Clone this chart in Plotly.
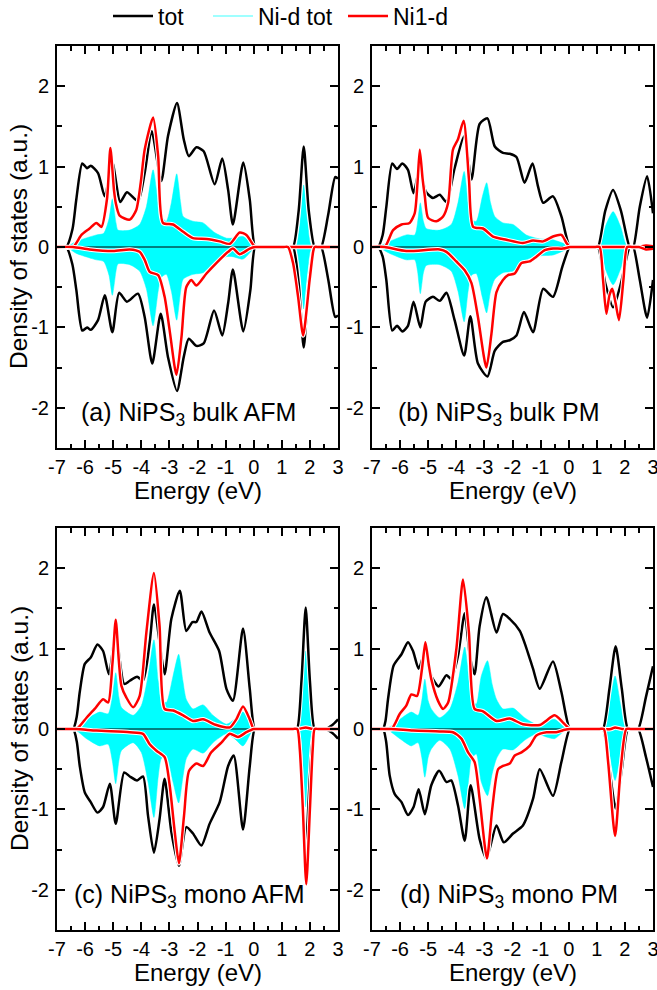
import plotly.graph_objects as go

# ---------------- data (energy eV, DOS a.u.) ----------------
a_tot_up = [(-7,0),(-6.67,0),(-6.45,0.22),(-6.31,0.6),(-6.10,1.04),(-5.93,0.98),(-5.80,1.01),(-5.54,0.92),(-5.30,0.63),(-5.03,1.05),(-4.75,0.56),(-4.51,0.68),(-4.12,0.57),(-3.88,0.92),(-3.63,1.44),(-3.29,0.82),(-3.05,1.38),(-2.73,1.79),(-2.49,1.34),(-2.31,1.13),(-2.04,1.24),(-1.78,1.19),(-1.39,0.78),(-1.12,1.10),(-0.91,0.71),(-0.74,0.28),(-0.37,1.05),(-0.14,0.59),(0.05,0),(0.2,0),(1.25,0),(1.40,0),(1.60,0.45),(1.78,1.25),(1.96,0.45),(2.17,0),(2.28,0),(2.40,0),(2.65,0.4),(2.90,0.87),(3.0,0.85)]
a_tot_dn = [(-7,0),(-6.67,0),(-6.45,-0.22),(-6.31,-0.54),(-6.10,-1.04),(-5.93,-1.00),(-5.80,-1.03),(-5.54,-0.91),(-5.30,-0.60),(-5.03,-1.06),(-4.79,-0.57),(-4.51,-0.68),(-4.12,-0.58),(-3.88,-0.87),(-3.61,-1.45),(-3.31,-0.83),(-3.05,-1.37),(-2.73,-1.79),(-2.49,-1.37),(-2.31,-1.14),(-2.04,-1.23),(-1.78,-1.20),(-1.41,-0.79),(-1.12,-1.10),(-0.91,-0.70),(-0.74,-0.28),(-0.37,-1.05),(-0.12,-0.54),(0.05,0),(0.2,0),(1.25,0),(1.40,0),(1.60,-0.45),(1.78,-1.25),(1.96,-0.45),(2.17,0),(2.28,0),(2.40,0),(2.65,-0.4),(2.90,-0.87),(3.0,-0.85)]
a_nid_up = [(-7,0),(-6.67,0),(-6.31,0.07),(-5.60,0.15),(-5.34,0.17),(-5.15,0.35),(-5.03,0.60),(-4.90,0.30),(-4.83,0.21),(-4.41,0.21),(-4.06,0.28),(-3.82,0.50),(-3.58,0.96),(-3.40,0.55),(-3.29,0.38),(-3.11,0.32),(-2.93,0.55),(-2.74,0.91),(-2.60,0.55),(-2.51,0.38),(-2.16,0.32),(-1.80,0.30),(-1.39,0.18),(-0.97,0.11),(-0.74,0.11),(-0.38,0.13),(-0.08,0.05),(0.05,0),(0.2,0),(1.35,0),(1.50,0),(1.65,0.3),(1.78,0.77),(1.92,0.3),(2.08,0),(3,0)]
a_nid_dn = [(-7,0),(-6.67,0),(-6.31,-0.08),(-5.60,-0.16),(-5.34,-0.18),(-5.15,-0.35),(-5.03,-0.60),(-4.90,-0.30),(-4.83,-0.21),(-4.41,-0.22),(-4.06,-0.30),(-3.82,-0.52),(-3.58,-0.98),(-3.40,-0.55),(-3.29,-0.38),(-3.11,-0.34),(-2.93,-0.55),(-2.74,-0.91),(-2.60,-0.55),(-2.51,-0.40),(-2.16,-0.34),(-1.80,-0.32),(-1.39,-0.19),(-0.97,-0.12),(-0.74,-0.12),(-0.38,-0.15),(-0.08,-0.05),(0.05,0),(0.2,0),(1.35,0),(1.50,0),(1.65,-0.3),(1.78,-0.77),(1.92,-0.3),(2.08,0),(3,0)]
a_ni1_up = [(-7,0),(-6.43,0),(-6.13,0.15),(-5.84,0.23),(-5.60,0.30),(-5.42,0.25),(-5.22,0.6),(-5.10,1.23),(-4.97,0.7),(-4.91,0.55),(-4.77,0.39),(-4.41,0.34),(-4.18,0.46),(-4.02,0.8),(-3.88,1.21),(-3.58,1.61),(-3.40,1.13),(-3.23,0.30),(-2.87,0.28),(-2.51,0.19),(-2.16,0.11),(-1.68,0.10),(-1.21,0.07),(-0.85,0.04),(-0.50,0.18),(-0.26,0.15),(0.0,0.02),(0.1,0),(0.25,0),(3,0)]
a_ni1_dn = [(-7,0),(-6.43,0),(-5.84,-0.03),(-5.0,-0.05),(-4.41,-0.03),(-4.06,-0.06),(-3.88,-0.16),(-3.70,-0.31),(-3.40,-0.35),(-3.17,-0.62),(-2.99,-1.04),(-2.75,-1.59),(-2.57,-1.12),(-2.40,-0.50),(-2.22,-0.41),(-2.04,-0.48),(-1.68,-0.33),(-1.33,-0.20),(-0.91,-0.06),(-0.74,-0.02),(-0.5,-0.09),(-0.14,-0.02),(0.05,0),(0.2,0),(1.07,0),(1.22,0),(1.40,-0.2),(1.58,-0.62),(1.76,-1.10),(1.99,-0.41),(2.12,-0.05),(2.17,0),(2.3,0),(3,0)]

b_tot_up = [(-7,0),(-6.79,0),(-6.62,0.15),(-6.49,0.50),(-6.28,1.04),(-6.11,0.97),(-5.92,1.04),(-5.72,0.96),(-5.52,0.67),(-5.30,0.99),(-5.09,0.69),(-4.83,0.61),(-4.59,0.65),(-4.35,0.56),(-4.06,0.98),(-3.72,1.38),(-3.46,0.84),(-3.17,1.53),(-2.89,1.60),(-2.63,1.25),(-2.34,1.17),(-2.10,1.16),(-1.86,1.12),(-1.57,0.80),(-1.29,1.04),(-1.09,0.75),(-0.91,0.55),(-0.56,0.63),(-0.26,0.38),(0.04,0),(0.2,0),(0.9,0),(1.04,0),(1.30,0.45),(1.58,0.71),(1.86,0.45),(2.17,0),(2.24,0),(2.30,0),(2.53,0.5),(2.79,0.88),(3.0,0.42)]
b_tot_dn = [(-7,0),(-6.79,0),(-6.62,-0.12),(-6.49,-0.41),(-6.28,-1.04),(-6.11,-0.98),(-5.92,-1.05),(-5.72,-0.98),(-5.52,-0.68),(-5.28,-1.0),(-5.09,-0.68),(-4.83,-0.62),(-4.59,-0.67),(-4.35,-0.57),(-4.06,-0.91),(-3.72,-1.35),(-3.50,-0.86),(-3.23,-1.45),(-2.89,-1.61),(-2.63,-1.29),(-2.34,-1.18),(-2.10,-1.16),(-1.86,-1.10),(-1.59,-0.81),(-1.27,-1.06),(-0.91,-0.52),(-0.56,-0.62),(-0.23,-0.25),(0.04,0),(0.2,0),(0.9,0),(1.04,0),(1.30,-0.45),(1.58,-0.75),(1.86,-0.45),(2.17,0),(2.24,0),(2.30,0),(2.53,-0.41),(2.79,-0.88),(3.0,-0.41)]
b_nid_up = [(-7,0),(-6.8,0),(-6.37,0.07),(-5.78,0.15),(-5.48,0.15),(-5.38,0.3),(-5.28,0.55),(-5.17,0.32),(-5.07,0.23),(-4.59,0.21),(-4.18,0.28),(-3.94,0.55),(-3.72,0.94),(-3.58,0.55),(-3.46,0.34),(-3.29,0.32),(-3.07,0.63),(-2.92,0.80),(-2.78,0.55),(-2.63,0.38),(-2.34,0.30),(-1.98,0.28),(-1.51,0.15),(-1.03,0.10),(-0.56,0.09),(-0.08,0.03),(0.1,0),(0.25,0),(0.95,0),(1.10,0),(1.30,0.25),(1.58,0.44),(1.85,0.25),(2.10,0),(3,0)]
b_nid_dn = [(-7,0),(-6.8,0),(-6.37,-0.08),(-5.78,-0.16),(-5.48,-0.16),(-5.38,-0.3),(-5.28,-0.58),(-5.17,-0.32),(-5.07,-0.23),(-4.59,-0.22),(-4.18,-0.30),(-3.94,-0.55),(-3.72,-0.93),(-3.58,-0.55),(-3.46,-0.35),(-3.29,-0.33),(-3.07,-0.63),(-2.92,-0.82),(-2.78,-0.55),(-2.63,-0.40),(-2.34,-0.32),(-1.98,-0.30),(-1.51,-0.16),(-1.03,-0.11),(-0.56,-0.10),(-0.08,-0.03),(0.1,0),(0.25,0),(0.95,0),(1.10,0),(1.30,-0.27),(1.58,-0.47),(1.85,-0.27),(2.10,0),(3,0)]
b_ni1_up = [(-7,0),(-6.55,0),(-6.25,0.21),(-5.95,0.28),(-5.66,0.30),(-5.48,0.42),(-5.38,0.8),(-5.30,1.21),(-5.20,0.85),(-5.12,0.63),(-5.0,0.36),(-4.71,0.32),(-4.47,0.38),(-4.29,0.55),(-4.12,1.21),(-3.94,1.34),(-3.74,1.57),(-3.55,0.84),(-3.40,0.25),(-3.05,0.23),(-2.69,0.13),(-2.22,0.09),(-1.63,0.05),(-1.27,0.08),(-0.91,0.07),(-0.56,0.13),(-0.26,0.15),(-0.08,0.05),(0.04,0),(0.2,0),(2.35,0),(2.5,0),(2.75,0.02),(3,0.01)]
b_ni1_dn = [(-7,0),(-6.55,0),(-5.78,-0.05),(-4.59,-0.03),(-4.35,-0.06),(-4.0,-0.18),(-3.70,-0.29),(-3.46,-0.45),(-3.23,-0.87),(-2.93,-1.50),(-2.75,-1.08),(-2.57,-0.56),(-2.34,-0.41),(-2.16,-0.35),(-1.92,-0.33),(-1.68,-0.20),(-1.39,-0.18),(-1.15,-0.12),(-0.85,-0.04),(-0.56,-0.02),(-0.2,-0.02),(0.04,0),(0.2,0),(0.95,0),(1.10,0),(1.22,-0.4),(1.34,-0.83),(1.45,-0.6),(1.55,-0.52),(1.67,-0.7),(1.79,-0.91),(1.95,-0.4),(2.08,0),(2.25,0),(2.5,0),(2.75,-0.03),(3,-0.02)]

c_tot_up = [(-7,0),(-6.43,0),(-6.30,0.15),(-6.19,0.46),(-6.01,0.81),(-5.80,0.89),(-5.56,1.05),(-5.36,0.97),(-5.15,0.68),(-4.91,1.20),(-4.61,0.56),(-4.41,0.60),(-4.15,0.65),(-3.94,0.60),(-3.70,1.08),(-3.55,1.55),(-3.35,1.08),(-3.17,0.68),(-2.93,1.37),(-2.63,1.72),(-2.40,1.22),(-2.18,1.33),(-2.04,1.33),(-1.86,1.46),(-1.57,1.20),(-1.23,0.97),(-0.97,0.50),(-0.74,0.35),(-0.38,1.25),(-0.14,0.50),(0.04,0),(0.2,0),(1.4,0),(1.54,0),(1.70,0.6),(1.85,1.51),(2.00,0.6),(2.17,0),(2.32,0),(2.55,0),(2.8,0.05),(3,0.12)]
c_tot_dn = [(-7,0),(-6.43,0),(-6.30,-0.15),(-6.19,-0.46),(-6.01,-0.79),(-5.80,-0.91),(-5.56,-1.04),(-5.36,-0.97),(-5.12,-0.68),(-4.91,-1.18),(-4.61,-0.54),(-4.41,-0.59),(-4.15,-0.64),(-3.94,-0.59),(-3.76,-1.08),(-3.55,-1.54),(-3.35,-1.12),(-3.17,-0.62),(-2.93,-1.28),(-2.66,-1.70),(-2.40,-1.22),(-2.16,-1.30),(-1.86,-1.45),(-1.57,-1.18),(-1.21,-0.91),(-0.91,-0.46),(-0.71,-0.33),(-0.38,-1.25),(-0.14,-0.46),(0.04,0),(0.2,0),(1.4,0),(1.54,0),(1.70,-0.6),(1.85,-1.51),(2.00,-0.6),(2.17,0),(2.32,0),(2.55,0),(2.8,-0.05),(3,-0.12)]
c_nid_up = [(-7,0),(-6.4,0),(-5.95,0.12),(-5.48,0.21),(-5.18,0.19),(-5.03,0.4),(-4.91,0.70),(-4.80,0.4),(-4.71,0.27),(-4.29,0.17),(-4.0,0.29),(-3.76,0.66),(-3.55,1.11),(-3.40,0.6),(-3.29,0.37),(-3.11,0.33),(-2.87,0.66),(-2.67,0.93),(-2.52,0.6),(-2.40,0.37),(-2.16,0.25),(-1.80,0.30),(-1.45,0.17),(-0.97,0.06),(-0.68,0.12),(-0.38,0.21),(-0.08,0.04),(0.05,0),(0.2,0),(1.4,0),(1.55,0),(1.70,0.4),(1.85,0.97),(2.00,0.4),(2.17,0),(3,0)]
c_nid_dn = [(-7,0),(-6.4,0),(-5.95,-0.12),(-5.48,-0.21),(-5.18,-0.19),(-5.03,-0.4),(-4.91,-0.68),(-4.80,-0.4),(-4.71,-0.27),(-4.29,-0.17),(-4.0,-0.29),(-3.76,-0.66),(-3.55,-1.10),(-3.40,-0.6),(-3.29,-0.37),(-3.11,-0.33),(-2.87,-0.66),(-2.67,-0.92),(-2.52,-0.6),(-2.40,-0.37),(-2.16,-0.25),(-1.80,-0.30),(-1.45,-0.17),(-0.97,-0.06),(-0.68,-0.12),(-0.38,-0.21),(-0.08,-0.04),(0.05,0),(0.2,0),(1.4,0),(1.55,0),(1.70,-0.4),(1.85,-0.97),(2.00,-0.4),(2.17,0),(3,0)]
c_ni1_up = [(-7,0),(-6.31,0),(-5.95,0.14),(-5.66,0.25),(-5.36,0.37),(-5.18,0.33),(-5.03,0.8),(-4.91,1.36),(-4.80,0.85),(-4.71,0.54),(-4.53,0.39),(-4.29,0.27),(-4.06,0.41),(-3.82,1.20),(-3.55,1.94),(-3.35,1.28),(-3.17,0.25),(-2.87,0.23),(-2.51,0.17),(-2.16,0.10),(-1.80,0.12),(-1.33,0.05),(-0.85,0.02),(-0.62,0.12),(-0.38,0.28),(-0.14,0.12),(0.0,0),(0.15,0),(1.6,0),(1.85,0.02),(2.1,0),(3,0)]
c_ni1_dn = [(-7,0),(-6.31,0),(-5.6,-0.02),(-4.41,-0.04),(-3.94,-0.06),(-3.70,-0.19),(-3.46,-0.27),(-3.17,-0.35),(-2.99,-0.70),(-2.81,-1.28),(-2.66,-1.67),(-2.48,-1.08),(-2.30,-0.52),(-2.04,-0.43),(-1.80,-0.46),(-1.51,-0.29),(-1.15,-0.17),(-0.85,-0.06),(-0.56,-0.10),(-0.26,-0.04),(0.0,0),(0.15,0),(1.4,0),(1.55,0),(1.64,-0.25),(1.75,-1.0),(1.87,-1.93),(2.0,-1.0),(2.1,-0.25),(2.17,0),(2.3,0),(3,0)]

d_tot_up = [(-7,0),(-6.61,0),(-6.52,0.1),(-6.43,0.37),(-6.23,0.79),(-5.95,0.93),(-5.72,1.08),(-5.54,0.97),(-5.34,0.75),(-5.10,0.97),(-4.89,0.66),(-4.63,0.53),(-4.35,0.67),(-4.18,0.62),(-3.94,0.91),(-3.70,1.44),(-3.52,0.91),(-3.35,0.68),(-3.17,1.28),(-2.93,1.64),(-2.57,1.20),(-2.34,1.43),(-2.10,1.37),(-1.74,1.22),(-1.51,1.01),(-1.27,0.75),(-1.03,0.50),(-0.56,0.84),(-0.26,0.46),(0.04,0),(0.2,0),(1.07,0),(1.22,0),(1.45,0.5),(1.67,1.03),(1.89,0.5),(2.11,0),(2.3,0),(2.47,0),(2.75,0.4),(3,0.78)]
d_tot_dn = [(-7,0),(-6.61,0),(-6.5,-0.15),(-6.37,-0.58),(-6.19,-0.81),(-5.95,-0.91),(-5.72,-1.07),(-5.52,-0.97),(-5.34,-0.75),(-5.12,-1.06),(-4.89,-0.70),(-4.61,-0.52),(-4.35,-0.66),(-4.18,-0.64),(-3.94,-0.95),(-3.70,-1.39),(-3.49,-0.70),(-3.17,-1.37),(-2.93,-1.61),(-2.57,-1.20),(-2.31,-1.41),(-1.98,-1.30),(-1.63,-1.20),(-1.27,-0.87),(-1.03,-0.50),(-0.56,-0.83),(-0.26,-0.41),(0.04,0),(0.2,0),(1.07,0),(1.22,0),(1.45,-0.5),(1.67,-0.99),(1.89,-0.5),(2.11,0),(2.3,0),(2.47,0),(2.75,-0.35),(3,-0.72)]
d_nid_up = [(-7,0),(-6.5,0),(-6.01,0.12),(-5.60,0.21),(-5.36,0.17),(-5.23,0.35),(-5.12,0.62),(-5.0,0.35),(-4.89,0.25),(-4.59,0.14),(-4.23,0.25),(-3.94,0.58),(-3.70,1.02),(-3.55,0.6),(-3.46,0.37),(-3.29,0.31),(-3.11,0.66),(-2.89,0.85),(-2.72,0.55),(-2.57,0.37),(-2.34,0.25),(-1.98,0.26),(-1.57,0.14),(-1.15,0.06),(-0.79,0.10),(-0.50,0.12),(-0.14,0.02),(0.05,0),(0.2,0),(1.1,0),(1.25,0),(1.45,0.3),(1.65,0.66),(1.85,0.3),(2.05,0),(3,0)]
d_nid_dn = [(-7,0),(-6.5,0),(-6.01,-0.12),(-5.60,-0.21),(-5.36,-0.17),(-5.23,-0.35),(-5.12,-0.60),(-5.0,-0.35),(-4.89,-0.25),(-4.59,-0.14),(-4.23,-0.25),(-3.94,-0.58),(-3.70,-0.99),(-3.55,-0.6),(-3.46,-0.37),(-3.29,-0.31),(-3.11,-0.66),(-2.89,-0.83),(-2.72,-0.55),(-2.57,-0.37),(-2.34,-0.25),(-1.98,-0.26),(-1.57,-0.14),(-1.15,-0.06),(-0.79,-0.10),(-0.50,-0.12),(-0.14,-0.02),(0.05,0),(0.2,0),(1.1,0),(1.25,0),(1.45,-0.3),(1.65,-0.64),(1.85,-0.3),(2.05,0),(3,0)]
d_ni1_up = [(-7,0),(-6.31,0),(-6.01,0.19),(-5.78,0.29),(-5.60,0.43),(-5.40,0.41),(-5.22,0.75),(-5.10,1.08),(-4.98,0.8),(-4.89,0.62),(-4.65,0.35),(-4.47,0.25),(-4.29,0.33),(-4.0,0.99),(-3.76,1.86),(-3.55,1.20),(-3.35,0.25),(-3.05,0.22),(-2.57,0.10),(-2.10,0.13),(-1.63,0.06),(-1.03,0.05),(-0.50,0.17),(-0.2,0.08),(0.04,0),(0.2,0),(1.5,0),(1.65,0.02),(1.9,0),(3,0)]
d_ni1_dn = [(-7,0),(-6.31,0),(-5.54,-0.02),(-4.59,-0.03),(-4.12,-0.04),(-3.82,-0.12),(-3.58,-0.29),(-3.35,-0.41),(-3.17,-0.87),(-2.91,-1.61),(-2.72,-0.99),(-2.51,-0.50),(-2.34,-0.46),(-2.10,-0.43),(-1.92,-0.33),(-1.68,-0.29),(-1.39,-0.21),(-1.15,-0.08),(-0.79,-0.04),(-0.44,-0.04),(-0.14,-0.01),(0.04,0),(0.2,0),(1.1,0),(1.25,0),(1.40,-0.4),(1.65,-1.33),(1.85,-0.5),(2.05,0),(2.2,0),(3,0)]

panel_labels = ["(a) NiPS<sub>3</sub> bulk AFM", "(b) NiPS<sub>3</sub> bulk PM",
                "(c) NiPS<sub>3</sub> mono AFM", "(d) NiPS<sub>3</sub> mono PM"]
series_names = ["tot", "Ni-d tot", "Ni1-d"]
x_title = "Energy (eV)"
y_title = "Density of states (a.u.)"
x_ticks = [-7, -6, -5, -4, -3, -2, -1, 0, 1, 2, 3]
x_minor = [-6.5, -5.5, -4.5, -3.5, -2.5, -1.5, -0.5, 0.5, 1.5, 2.5]
y_ticks = [-2, -1, 0, 1, 2]
y_minor = [-1.5, -0.5, 0.5, 1.5]
x_range = [-7, 3]
y_range = [-2.5, 2.5]

panels = [
    (a_tot_up, a_tot_dn, a_nid_up, a_nid_dn, a_ni1_up, a_ni1_dn),
    (b_tot_up, b_tot_dn, b_nid_up, b_nid_dn, b_ni1_up, b_ni1_dn),
    (c_tot_up, c_tot_dn, c_nid_up, c_nid_dn, c_ni1_up, c_ni1_dn),
    (d_tot_up, d_tot_dn, d_nid_up, d_nid_dn, d_ni1_up, d_ni1_dn),
]
label_pos = [(-6.2, -2.08), (-6.16, -2.08), (-6.45, -2.08), (-6.09, -2.08)]

# ---------------- layout geometry (page pixels) ----------------
W, H = 657, 990
col_px = [(57, 338), (372, 653)]
row_px = [(46, 448), (528, 930)]
xtitle_y = [490, 972]
ytitle_x = 19
legend_x = [108, 208, 343]
legend_cy = 16

def px(v):
    return v / W

def py(v):
    return 1 - v / H

FONT = "Liberation Sans, Arial, sans-serif"
BLACK = "#000000"
CYAN = "#00FFFF"
RED = "#FF0000"
SM = 0.65

fig = go.Figure()

def xy(pts):
    return [p[0] for p in pts], [p[1] for p in pts]

for i, (tu, td, nu, nd, ru, rd) in enumerate(panels):
    xa = "x" if i == 0 else f"x{i+1}"
    ya = "y" if i == 0 else f"y{i+1}"
    common = dict(xaxis=xa, yaxis=ya, showlegend=False, hoverinfo="skip")
    for pts in (nu, nd):
        x, y = xy(pts)
        fig.add_trace(go.Scatter(x=x, y=y, mode="lines", fill="tozeroy",
                                 fillcolor=CYAN, line=dict(color=CYAN, width=0.5,
                                 shape="spline", smoothing=SM), **common))
    fig.add_trace(go.Scatter(x=x_range, y=[0, 0], mode="lines",
                             line=dict(color=BLACK, width=1), **common))
    for pts, col in ((tu, BLACK), (td, BLACK), (ru, RED), (rd, RED)):
        x, y = xy(pts)
        fig.add_trace(go.Scatter(x=x, y=y, mode="lines",
                                 line=dict(color="white", width=4.5, shape="spline", smoothing=SM),
                                 **common))
        fig.add_trace(go.Scatter(x=x, y=y, mode="lines",
                                 line=dict(color=col, width=2.5, shape="spline", smoothing=SM),
                                 **common))

legend_names = ["legend", "legend2", "legend3"]
for name, col, w, lg in zip(series_names, [BLACK, "#7FFFFF", RED], [2.5, 1.5, 2.5], legend_names):
    fig.add_trace(go.Scatter(x=[None], y=[None], mode="lines", name=name, legend=lg,
                             line=dict(color=col, width=w), xaxis="x", yaxis="y"))

layout = dict(
    width=W, height=H, margin=dict(l=0, r=0, t=0, b=0, autoexpand=False),
    paper_bgcolor="white", plot_bgcolor="white",
    font=dict(family=FONT, size=20, color=BLACK),
    showlegend=True,
)
for lg, lx in zip(legend_names, legend_x):
    layout[lg] = dict(orientation="h", x=px(lx), xanchor="left", y=py(legend_cy),
                      yanchor="middle", font=dict(size=23), bgcolor="rgba(0,0,0,0)",
                      itemwidth=40)

annotations = []
for i in range(4):
    r, c = divmod(i, 2)
    xs = "" if i == 0 else str(i + 1)
    x0, x1 = col_px[c]
    y0, y1 = row_px[r]
    layout["xaxis" + xs] = dict(
        domain=[px(x0), px(x1)], anchor="y" + xs, range=x_range,
        tickmode="array", tickvals=x_ticks, ticktext=[str(v) for v in x_ticks],
        ticks="inside", ticklen=8, tickwidth=1.5, tickcolor=BLACK,
        minor=dict(tickvals=x_minor, ticks="inside", ticklen=4.5, tickwidth=1.5,
                   tickcolor=BLACK, showgrid=False),
        showline=True, linewidth=2, linecolor=BLACK, mirror="ticks",
        showgrid=False, zeroline=False, tickfont=dict(size=20),
        ticklabelstandoff=0, ticklabeloverflow="allow", automargin=False,
    )
    layout["yaxis" + xs] = dict(
        domain=[py(y1), py(y0)], anchor="x" + xs, range=y_range,
        tickmode="array", tickvals=y_ticks, ticktext=[str(v) for v in y_ticks],
        ticks="inside", ticklen=8, tickwidth=1.5, tickcolor=BLACK,
        minor=dict(tickvals=y_minor, ticks="inside", ticklen=4.5, tickwidth=1.5,
                   tickcolor=BLACK, showgrid=False),
        showline=True, linewidth=2, linecolor=BLACK, mirror="ticks",
        showgrid=False, zeroline=False, tickfont=dict(size=20),
        ticklabelstandoff=2, ticklabeloverflow="allow", automargin=False,
    )
    lx, ly = label_pos[i]
    annotations.append(dict(text=panel_labels[i], xref="x" + xs, yref="y" + xs,
                            x=lx, y=ly, xanchor="left", yanchor="middle",
                            showarrow=False, font=dict(size=25, color=BLACK)))
    annotations.append(dict(text=x_title, xref="paper", yref="paper",
                            x=px((x0 + x1) / 2), y=py(xtitle_y[r]),
                            xanchor="center", yanchor="middle", showarrow=False,
                            font=dict(size=24, color=BLACK)))
    if c == 0:
        annotations.append(dict(text=y_title, xref="paper", yref="paper",
                                x=px(ytitle_x), y=py((y0 + y1) / 2), textangle=-90,
                                xanchor="center", yanchor="middle", showarrow=False,
                                font=dict(size=24.5, color=BLACK)))
layout["annotations"] = annotations
fig.update_layout(**layout)

# remove the default page margin so the figure sits at the window's top-left corner
fig.write_html("out.html", config={"displayModeBar": False},
               post_script="document.body.style.margin='0';document.body.style.overflow='hidden';")
